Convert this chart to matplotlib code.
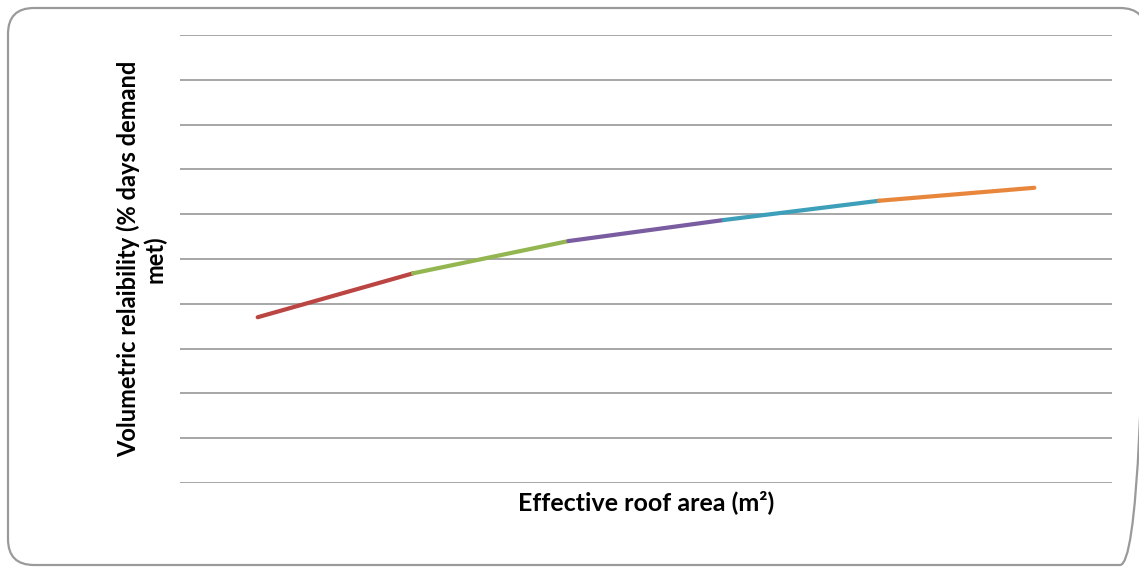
import numpy as np
import matplotlib.pyplot as plt
from matplotlib.patches import FancyBboxPatch

# roof area categories (6 points along the x axis, no labels shown)
area_idx = [0, 1, 2, 3, 4, 5]
reliability = [37.0, 46.8, 54.0, 58.7, 63.0, 65.9]
seg_colors = ['#BA4542', '#93B650', '#7A5CA0', '#3E9FBA', '#E8863C']

W, H = 1139, 567
fig = plt.figure(figsize=(W / 100, H / 100), dpi=100)
fig.patch.set_facecolor('white')

# rounded chart border, drawn in pixel coordinates
bg = fig.add_axes([0, 0, 1, 1])
bg.set_xlim(0, W)
bg.set_ylim(H, 0)
bg.axis('off')
bg.add_patch(FancyBboxPatch((8, 8), 1138, 557,
                            boxstyle='round,pad=0,rounding_size=26',
                            facecolor='none', edgecolor='#9A9A9A',
                            linewidth=1.6, clip_on=False))

ax = fig.add_axes([180 / W, 1 - 483 / H, (1112 - 180) / W, (483 - 35) / H])
ax.set_xlim(-0.5, 5.5)
ax.set_ylim(0, 100)
ax.set_yticks(np.arange(0, 101, 10))
ax.set_xticks([])
ax.yaxis.grid(True, color='#8E8E8E', linewidth=1.1)
ax.set_axisbelow(True)
ax.tick_params(axis='y', length=0, labelleft=False)
ax.patch.set_alpha(0)
for s in ax.spines.values():
    s.set_visible(False)

# each stretch of the curve drawn in its own colour
for i in range(len(area_idx) - 1):
    ax.plot(area_idx[i:i + 2], reliability[i:i + 2], color=seg_colors[i],
            linewidth=3.0, solid_capstyle='round')

ax.set_xlabel('Effective roof area (m²)', family='Lato', weight='bold',
              size=18, labelpad=5)
ax.set_ylabel('Volumetric relaibility (% days demand\nmet)', family='Lato',
              weight='bold', size=17, labelpad=10, linespacing=1.12)

fig.savefig('out.png', dpi=100)
